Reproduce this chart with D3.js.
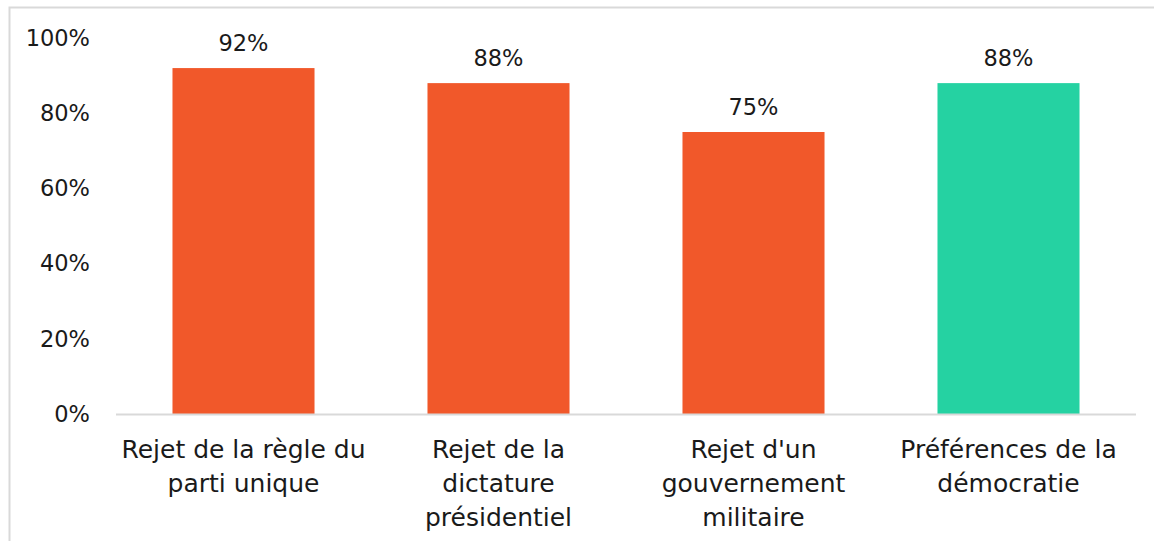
<!DOCTYPE html>
<html>
<head>
<meta charset="utf-8">
<script src="https://cdn.jsdelivr.net/npm/d3@7"></script>
<style>
  html, body { margin: 0; padding: 0; background: #fff; }
  svg { display: block; }
</style>
</head>
<body>
<div id="chart"></div>
<script>
// Chart data
const categories = [
  ['Rejet de la règle du', 'parti unique'],
  ['Rejet de la', 'dictature', 'présidentiel'],
  ["Rejet d'un", 'gouvernement', 'militaire'],
  ['Préférences de la', 'démocratie']
]
const values = [0.92, 0.88, 0.75, 0.88]
const valueLabels = ['92%', '88%', '75%', '88%']
const barColors = ['#F1582A', '#F1582A', '#F1582A', '#25D2A2']
const yTicks = [0, 0.2, 0.4, 0.6, 0.8, 1.0]

const W = 1154, H = 541
const margin = { top: 38, right: 18, bottom: 127, left: 116 }
const FONT = '"DejaVu Sans", sans-serif'
const TEXT = '#1A1A1A'

const svg = d3.select('#chart').append('svg')
  .attr('width', W).attr('height', H)

// Chart frame (clipped at the right / bottom like the source)
svg.append('rect')
  .attr('x', 9.5).attr('y', 7.5)
  .attr('width', W + 20).attr('height', H + 20)
  .attr('fill', 'none')
  .attr('stroke', '#D9D9D9').attr('stroke-width', 2)

const x = d3.scaleBand()
  .domain(d3.range(categories.length))
  .range([margin.left, W - margin.right])
  .paddingInner(0.443)
  .paddingOuter(0.2215)

const y = d3.scaleLinear()
  .domain([0, 1])
  .range([H - margin.bottom, margin.top])

// Y axis
svg.append('g')
  .attr('class', 'axis-y')
  .attr('transform', `translate(${margin.left},0)`)
  .call(d3.axisLeft(y).tickValues(yTicks).tickFormat(d3.format('.0%')).tickSize(0).tickPadding(26))
  .call(g => {
    g.select('.domain').remove()
    g.selectAll('.tick text')
      .attr('fill', TEXT).attr('font-size', '22.5px')
      .attr('font-family', FONT)
  })

// Bars
svg.append('g').attr('class', 'bars')
  .selectAll('rect')
  .data(values)
  .join('rect')
  .attr('x', (d, i) => x(i))
  .attr('y', d => y(d))
  .attr('width', x.bandwidth())
  .attr('height', d => y(0) - y(d))
  .attr('fill', (d, i) => barColors[i])

// Baseline
svg.append('line')
  .attr('x1', margin.left).attr('x2', W - margin.right)
  .attr('y1', y(0) + 0.5).attr('y2', y(0) + 0.5)
  .attr('stroke', '#D9D9D9').attr('stroke-width', 2)

// Value labels
svg.append('g').attr('class', 'value-labels')
  .selectAll('text')
  .data(values)
  .join('text')
  .attr('x', (d, i) => x(i) + x.bandwidth() / 2)
  .attr('y', d => y(d) - 17)
  .attr('text-anchor', 'middle')
  .attr('fill', TEXT).attr('font-size', '22.5px')
  .attr('font-family', FONT)
  .text((d, i) => valueLabels[i])

// Category labels
const cat = svg.append('g').attr('class', 'axis-x')
  .selectAll('text')
  .data(categories)
  .join('text')
  .attr('x', (d, i) => x(i) + x.bandwidth() / 2)
  .attr('y', y(0) + 44)
  .attr('text-anchor', 'middle')
  .attr('fill', TEXT).attr('font-size', '25px')
  .attr('font-family', FONT)

cat.selectAll('tspan')
  .data(d => d)
  .join('tspan')
  .attr('x', function () { return this.parentNode.getAttribute('x') })
  .attr('dy', (d, i) => i === 0 ? 0 : 34)
  .text(d => d)
</script>
</body>
</html>
